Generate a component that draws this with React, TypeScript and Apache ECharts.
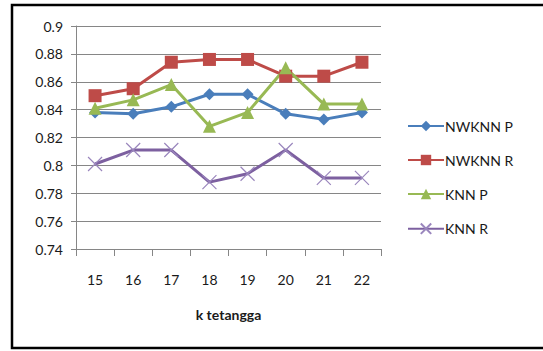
import React, { useEffect, useRef } from "react";
import * as echarts from "echarts";

const categories = ["15", "16", "17", "18", "19", "20", "21", "22"];
const nwknnP = [0.838, 0.837, 0.842, 0.851, 0.851, 0.837, 0.833, 0.838];
const nwknnR = [0.85, 0.855, 0.874, 0.876, 0.876, 0.864, 0.864, 0.874];
const knnP = [0.841, 0.847, 0.858, 0.828, 0.838, 0.87, 0.844, 0.844];
const knnR = [0.801, 0.811, 0.811, 0.788, 0.794, 0.811, 0.791, 0.791];

const FONT = "Lato";
const CROSS = "path://M0,0L10,10M10,0L0,10";

export default function App() {
  const ref = useRef<HTMLDivElement>(null);

  useEffect(() => {
    if (!ref.current) return;
    const chart = echarts.init(ref.current, undefined, { renderer: "svg" });
    const line = (name: string, data: number[], color: string, symbol: string, size: number) => ({
      name,
      type: "line",
      data,
      symbol,
      symbolSize: size,
      lineStyle: { color, width: 3 },
      itemStyle: { color },
      emphasis: { disabled: true },
    });
    chart.setOption({
      animation: false,
      backgroundColor: "#ffffff",
      textStyle: { fontFamily: FONT },
      graphic: [
        {
          type: "rect",
          shape: { x: 12, y: 5, width: 545, height: 343 },
          style: { fill: "none", stroke: "#000000", lineWidth: 2.5 },
          silent: true,
        },
      ],
      grid: { left: 76, top: 26, width: 305, height: 223 },
      xAxis: {
        type: "category",
        data: categories,
        boundaryGap: true,
        axisLine: { lineStyle: { color: "#868686", width: 1 } },
        axisTick: { show: true, length: 7, lineStyle: { color: "#868686" } },
        axisLabel: { color: "#1a1a1a", fontSize: 14, fontFamily: FONT, margin: 23 },
        name: "k tetangga",
        nameLocation: "middle",
        nameGap: 58,
        nameTextStyle: { color: "#1a1a1a", fontSize: 14, fontWeight: "bold", fontFamily: FONT },
      },
      yAxis: {
        type: "value",
        min: 0.74,
        max: 0.9,
        interval: 0.02,
        axisLine: { show: true, lineStyle: { color: "#868686", width: 1 } },
        axisTick: { show: true, length: 5, lineStyle: { color: "#868686" } },
        axisLabel: {
          color: "#1a1a1a",
          fontSize: 14,
          fontFamily: FONT,
          margin: 13,
          formatter: (v: number) => String(+v.toFixed(2)),
        },
        splitLine: { lineStyle: { color: "#868686", width: 1 } },
      },
      legend: {
        orient: "vertical",
        left: 402,
        top: 114,
        itemWidth: 36,
        itemHeight: 13,
        itemGap: 20,
        textStyle: { color: "#1a1a1a", fontSize: 14, fontFamily: FONT, padding: [0, 0, 0, -4] },
        data: ["NWKNN P", "NWKNN R", "KNN P", "KNN R"],
      },
      series: [
        line("NWKNN P", nwknnP, "#4a7ebb", "diamond", 12),
        line("NWKNN R", nwknnR, "#be4b48", "rect", 13),
        line("KNN P", knnP, "#98b954", "triangle", 13),
        {
          ...line("KNN R", knnR, "#7d60a0", CROSS, 14),
          itemStyle: { color: "none", borderColor: "#9a86bd", borderWidth: 1.2 },
        },
      ],
    });
    return () => chart.dispose();
  }, []);

  return (
    <div
      ref={ref}
      style={{ position: "fixed", left: 0, top: 0, width: 543, height: 351 }}
    />
  );
}
